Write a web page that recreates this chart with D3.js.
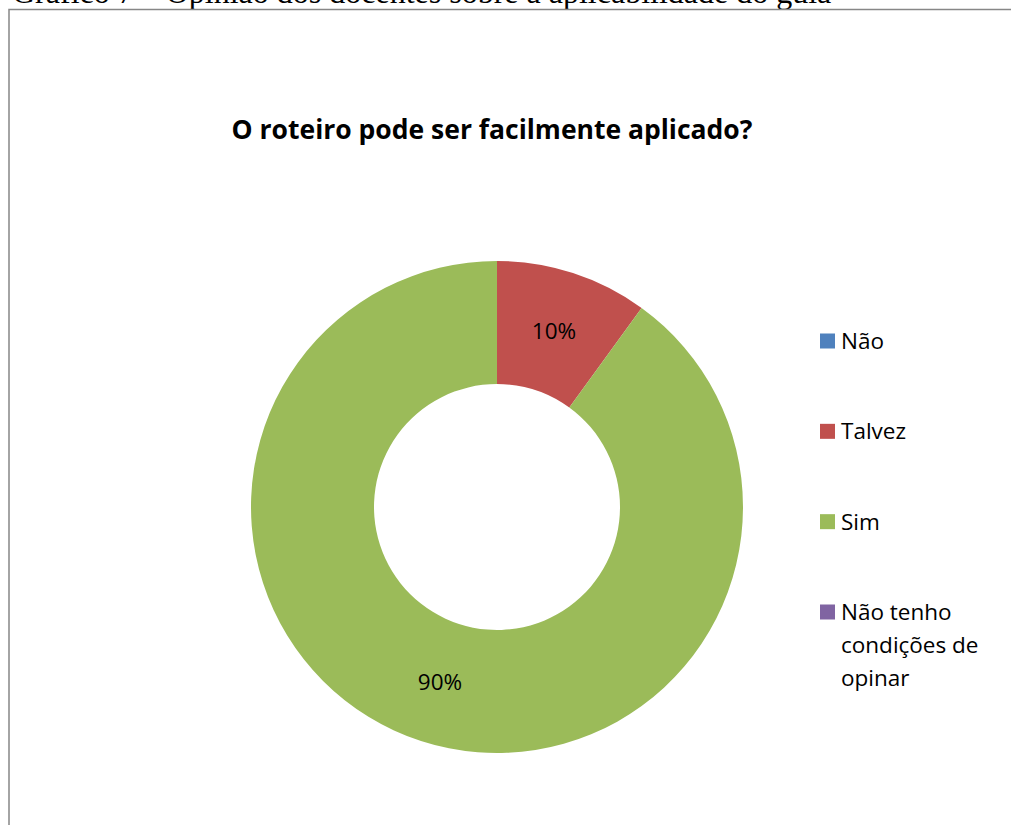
<!DOCTYPE html>
<html>
<head>
<meta charset="utf-8">
<script src="https://cdn.jsdelivr.net/npm/d3@7"></script>
<style>
  html, body { margin: 0; padding: 0; background: #fff; }
  svg { display: block; }
</style>
</head>
<body>
<svg id="chart" width="1011" height="825"></svg>
<script>
// Responses to "O roteiro pode ser facilmente aplicado?"
const categories = ["Não", "Talvez", "Sim", "Não tenho condições de opinar"];
const legendLines = [["Não"], ["Talvez"], ["Sim"], ["Não tenho", "condições de", "opinar"]];
const values = [0, 10, 90, 0];
const colors = ["#4F81BD", "#C0504D", "#9BBB59", "#8064A2"];
const caption = "Gráfico 7 – Opinião dos docentes sobre a aplicabilidade do guia";
const title = "O roteiro pode ser facilmente aplicado?";

const svg = d3.select("#chart");
const W = 1011, H = 825;
const sans = "'Open Sans', 'Noto Sans', sans-serif";

// document caption above the chart frame (runs off the top of the page)
svg.append("text")
  .attr("x", 12).attr("y", 3)
  .attr("font-family", "'Liberation Serif', 'Times New Roman', serif")
  .attr("font-size", 32)
  .attr("fill", "#000")
  .text(caption);

// chart frame
svg.append("rect")
  .attr("x", 9).attr("y", 9.5)
  .attr("width", W + 20).attr("height", H + 20)
  .attr("fill", "#fff")
  .attr("stroke", "#878787").attr("stroke-width", 1.5);

// chart title
svg.append("text")
  .attr("x", 492).attr("y", 139)
  .attr("text-anchor", "middle")
  .attr("font-family", sans)
  .attr("font-weight", "bold")
  .attr("font-size", 26.5)
  .attr("fill", "#000")
  .text(title);

// doughnut
const cx = 497, cy = 507, rOuter = 246, rInner = 123;
const pie = d3.pie().sort(null).value(d => d)(values);
const arc = d3.arc().innerRadius(rInner).outerRadius(rOuter);
const labelArc = d3.arc().innerRadius((rInner + rOuter) / 2).outerRadius((rInner + rOuter) / 2);
const color = d3.scaleOrdinal().domain(categories).range(colors);

const g = svg.append("g").attr("transform", `translate(${cx},${cy})`);
g.selectAll("path.slice")
  .data(pie)
  .join("path")
  .attr("class", "slice")
  .attr("d", arc)
  .attr("fill", (d, i) => color(categories[i]));

g.selectAll("text.pct")
  .data(pie.filter(d => d.data > 0))
  .join("text")
  .attr("class", "pct")
  .attr("transform", d => `translate(${labelArc.centroid(d)})`)
  .attr("text-anchor", "middle")
  .attr("dy", "0.35em")
  .attr("font-family", sans)
  .attr("font-size", 22.5)
  .attr("fill", "#000")
  .text(d => d3.format(".0%")(d.data / d3.sum(values)));

// legend
const legendY = d3.scalePoint().domain(categories).range([341, 612]);
const lg = svg.append("g");
categories.forEach((c, i) => {
  const y = legendY(c);
  lg.append("rect")
    .attr("x", 820).attr("y", y - 7.5)
    .attr("width", 15).attr("height", 15)
    .attr("fill", color(c));
  const t = lg.append("text")
    .attr("x", 841).attr("y", y + 8)
    .attr("font-family", sans)
    .attr("font-size", 22.5)
    .attr("fill", "#000");
  legendLines[i].forEach((line, j) => {
    t.append("tspan").attr("x", 841).attr("dy", j === 0 ? 0 : 33).text(line);
  });
});
</script>
</body>
</html>
